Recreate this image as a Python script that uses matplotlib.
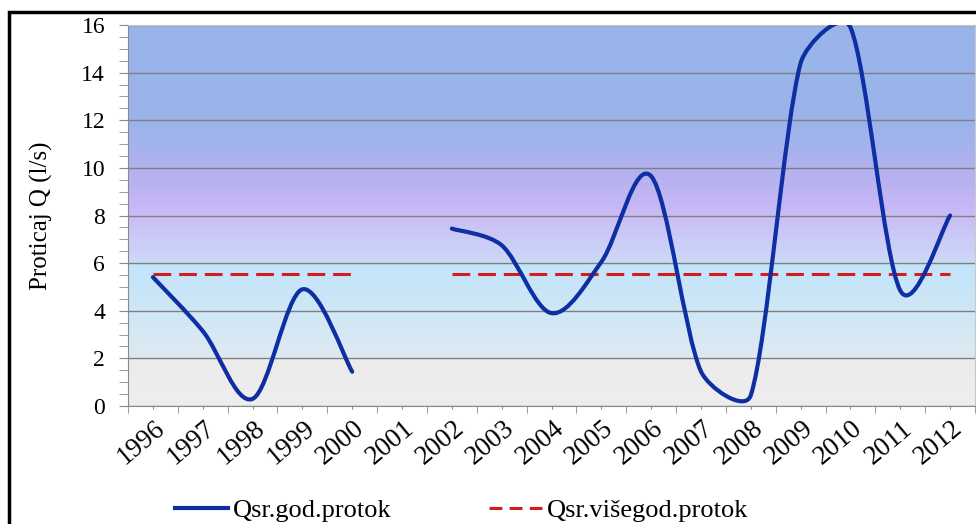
import numpy as np
import matplotlib.pyplot as plt
import matplotlib.transforms as mtransforms
from matplotlib.path import Path
from matplotlib.patches import PathPatch, Rectangle
from matplotlib.colors import LinearSegmentedColormap
from matplotlib.lines import Line2D

plt.rcParams['font.family'] = ['Liberation Serif', 'DejaVu Serif']

years = ['1996', '1997', '1998', '1999', '2000', '2001', '2002', '2003', '2004',
         '2005', '2006', '2007', '2008', '2009', '2010', '2011', '2012']
# annual mean discharge (l/s), 2001 missing
q_annual = [5.41, 3.15, 0.30, 4.90, 1.44, np.nan, 7.45, 6.75, 3.90,
            6.05, 9.65, 1.45, 0.45, 14.40, 15.90, 4.85, 8.00]
# multi-year mean discharge
q_mean = [5.55, 5.55, 5.55, 5.55, 5.55, np.nan, 5.55, 5.55, 5.55,
          5.55, 5.55, 5.55, 5.55, 5.55, 5.55, 5.55, 5.55]

BLUE = '#0d2fa3'
RED = '#d41c1c'
AXCOL = '#8a8a8a'


def smooth_path(xs, ys, sx, sy):
    # smoothed line like the spreadsheet: catmull-rom bezier, handles capped
    p = np.column_stack([np.asarray(xs, float) * sx, np.asarray(ys, float) * sy])
    n = len(p)
    verts = [p[0]]
    codes = [Path.MOVETO]
    for i in range(n - 1):
        a = p[i - 1] if i > 0 else p[i]
        b, c = p[i], p[i + 1]
        d = p[i + 2] if i + 2 < n else p[i + 1]
        cap = np.hypot(*(c - b)) / 3
        h1 = (c - a) / 6
        h2 = (d - b) / 6
        l1, l2 = np.hypot(*h1), np.hypot(*h2)
        if l1 > cap:
            h1 = h1 * cap / l1
        if l2 > cap:
            h2 = h2 * cap / l2
        verts += [b + h1, c - h2, c]
        codes += [Path.CURVE4] * 3
    verts = np.array(verts) / [sx, sy]
    return Path(verts, codes)


fig = plt.figure(figsize=(9.76, 5.24), dpi=100)
ax = fig.add_axes([128 / 976, 1 - 406 / 524, 847 / 976, 381 / 524])

# background gradient of the plot area
stops = [(0.0, '#eeeeee'), (1.95 / 16, '#ebebec'), (2.05 / 16, '#dde9f1'),
         (4 / 16, '#cfe7f6'), (5.9 / 16, '#c2e4fa'), (6.1 / 16, '#cdd8f8'),
         (8.3 / 16, '#c8b8f6'), (9.5 / 16, '#b8b2f0'), (11 / 16, '#a4b3ec'),
         (12 / 16, '#9bb4ea'), (1.0, '#99b5ea')]
cmap = LinearSegmentedColormap.from_list('bg', stops)
ax.imshow(np.linspace(0, 1, 512).reshape(-1, 1), extent=(-0.5, 16.5, 0, 16),
          origin='lower', aspect='auto', cmap=cmap, zorder=-1)

x = np.arange(len(years))
ax.set_xlim(-0.5, 16.5)
ax.set_ylim(0, 16)

# pixel scale of one category / one unit, for the smoothing
sx = 847 / 17
sy = 381 / 16
qa = np.array(q_annual)
ok = ~np.isnan(qa)
breaks = np.where(np.diff(ok.astype(int)) != 0)[0] + 1
for idx in np.split(x, breaks):
    if ok[idx[0]] and len(idx) > 1:
        ax.add_patch(PathPatch(smooth_path(x[idx], qa[idx], sx, sy), fill=False,
                               ec=BLUE, lw=3, capstyle='round',
                               joinstyle='round', zorder=3))

ax.plot(x, q_mean, color=RED, lw=2.2, ls=(0, (5.8, 2.6)), zorder=2)

ax.set_yticks(np.arange(0, 17, 2))
ax.set_yticks(np.arange(0, 16.01, 0.5), minor=True)
ax.set_xticks(x)
ax.set_xticks(np.arange(-0.5, 17, 1), minor=True)
ax.set_xticklabels(years, rotation=40, ha='right', va='top', rotation_mode='anchor')
ax.yaxis.grid(True, color='#7f7f7f', lw=1.0)
ax.set_axisbelow(True)

ax.tick_params(axis='y', which='both', direction='out', length=6.5, color=AXCOL,
               labelsize=17, pad=10)
ax.tick_params(axis='x', which='major', direction='out', length=2.2, color=AXCOL,
               labelsize=19.5, pad=5)
ax.tick_params(axis='x', which='minor', direction='out', length=5, color=AXCOL)
offset = mtransforms.ScaledTranslation(1 / 100, 0, fig.dpi_scale_trans)
for lbl in ax.get_xticklabels():
    lbl.set_transform(lbl.get_transform() + offset)

for side in ['left', 'bottom']:
    ax.spines[side].set_color(AXCOL)
for side in ['top', 'right']:
    ax.spines[side].set_color('#c8c8c8')

ax.set_ylabel('Proticaj Q (l/s)', fontsize=18)
ax.yaxis.set_label_coords(-0.0886, 0.5)

handles = [Line2D([], [], color=BLUE, lw=3),
           Line2D([], [], color=RED, lw=2.2, ls=(0, (4.2, 2.4)))]
fig.legend(handles, ['Qsr.god.protok', 'Qsr.višegod.protok'], loc='center left',
           bbox_to_anchor=(175 / 976, 1 - 510 / 524), ncol=2, frameon=False,
           fontsize=19, handlelength=2.0, handletextpad=0.2, columnspacing=3.7,
           borderpad=0, borderaxespad=0)

# outer frame of the picture (cut at right and bottom)
fig.add_artist(Rectangle((9 / 976, -0.1), 1.1, 1.1 - 12 / 524, transform=fig.transFigure,
                         fill=False, ec='black', lw=2.5))

fig.savefig('out.png', dpi=100)
